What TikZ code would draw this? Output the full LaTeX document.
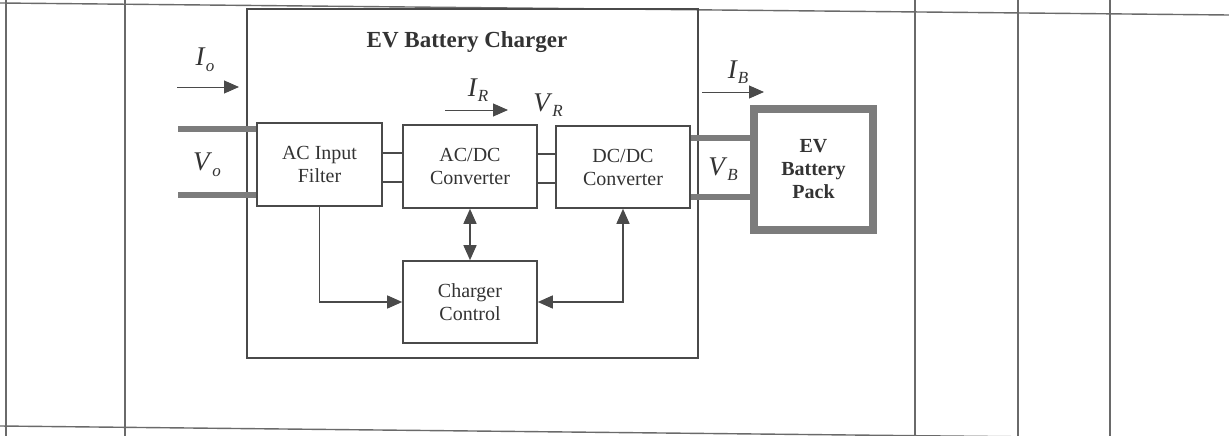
\documentclass[tikz,border=0pt]{standalone}
\usepackage{fontspec}
\setmainfont{Liberation Serif}
\usetikzlibrary{arrows.meta,calc}
\definecolor{ln}{HTML}{4A4A4A}
\definecolor{tx}{HTML}{333333}
\definecolor{thk}{HTML}{7C7C7C}
\definecolor{tbl}{HTML}{6A6A6A}
\newcommand\qlbl[2]{\textit{#1}\raisebox{-0.45ex}{\fontsize{17}{17}\selectfont\textit{#2}}}
\tikzset{
  blk/.style={draw=ln, line width=1.6pt, rectangle, inner sep=0pt, text=tx, align=center,
    font=\fontsize{20}{23}\selectfont, minimum width=134pt, minimum height=82pt},
  tline/.style={draw=tbl, line width=1.4pt},
  wire/.style={draw=ln, line width=1.4pt},
  fat/.style={draw=thk, line width=6pt},
  tip/.style={-{Triangle[length=15pt,width=13pt,fill=ln]}},
  dtip/.style={{Triangle[length=15pt,width=13pt,fill=ln]}-{Triangle[length=15pt,width=13pt,fill=ln]}},
  qty/.style={text=tx, font=\fontsize{27}{27}\selectfont, inner sep=0pt},
}
\begin{document}
\begin{tikzpicture}[x=1pt,y=-1pt]
\useasboundingbox (0,0) rectangle (1229,436);
% table lines
\draw[tline] (0,3) -- (1229,15);
\draw[tline] (0,426) -- (1229,439);
\draw[tline] (6,0) -- (6,436);
\draw[tline] (125,0) -- (125,436);
\draw[tline] (915,0) -- (915,436);
\draw[tline] (1018,0) -- (1018,436);
\draw[tline] (1110,0) -- (1110,436);
% charger box
\node[draw=ln, line width=2.6pt, minimum width=451pt, minimum height=349pt, inner sep=0pt] (charger) at (472.5,183.5) {};
\node[text=tx, font=\fontsize{23}{23}\selectfont\bfseries] (title) at (467,42) {EV Battery Charger};
% blocks
\node[blk, minimum width=125pt, minimum height=83pt] (filter) at (319.5,164.5) {AC Input\\Filter};
\node[blk, minimum height=83pt] (acdc) at (470,166.5) {AC/DC\\Converter};
\node[blk] (dcdc) at (623,167) {DC/DC\\Converter};
\node[blk] (ctrl) at (470,302) {Charger\\Control};
\node[draw=thk, line width=8pt, minimum width=119pt, minimum height=121pt, inner sep=0pt, text=tx, align=center,
  font=\fontsize{20}{23}\selectfont\bfseries] (batt) at (813.5,169.5) {EV\\Battery\\Pack};
% input power lines
\coordinate (in1) at (178,129);
\coordinate (in2) at (178,195);
\draw[fat] (in1) -- (in1 -| filter.west);
\draw[fat] (in2) -- (in2 -| filter.west);
% output power lines
\draw[fat] (dcdc.east |- 0,138) -- (batt.west |- 0,138);
\draw[fat] (dcdc.east |- 0,197) -- (batt.west |- 0,197);
% internal double lines
\draw[wire] (filter.east |- 0,153) -- (acdc.west |- 0,153);
\draw[wire] (filter.east |- 0,182) -- (acdc.west |- 0,182);
\draw[wire] (acdc.east |- 0,154) -- (dcdc.west |- 0,154);
\draw[wire] (acdc.east |- 0,183) -- (dcdc.west |- 0,183);
% control connections
\draw[wire, tip] (filter.south) |- (ctrl.west);
\draw[wire, dtip] (acdc.south) -- (ctrl.north);
\draw[wire, dtip] (ctrl.east) -| (dcdc.south);
% current arrows
\coordinate (io1) at (177,87); \coordinate (io2) at (239,87);
\draw[wire, tip, line width=1pt] (io1) -- (io2);
\coordinate (ir1) at (445,110); \coordinate (ir2) at (508,110);
\draw[wire, tip, line width=1pt] (ir1) -- (ir2);
\coordinate (ib1) at (702,92); \coordinate (ib2) at (764,92);
\draw[wire, tip, line width=1pt] (ib1) -- (ib2);
% labels
\node[qty] (Io) at (205,60) {\qlbl{I}{o}};
\node[qty] (Vo) at (207,165) {\qlbl{V}{o}};
\node[qty] (IR) at (478,90) {\qlbl{I}{R}};
\node[qty] (VR) at (548,105) {\qlbl{V}{R}};
\node[qty] (IB) at (738,72) {\qlbl{I}{B}};
\node[qty] (VB) at (723,169) {\qlbl{V}{B}};
\end{tikzpicture}
\end{document}
